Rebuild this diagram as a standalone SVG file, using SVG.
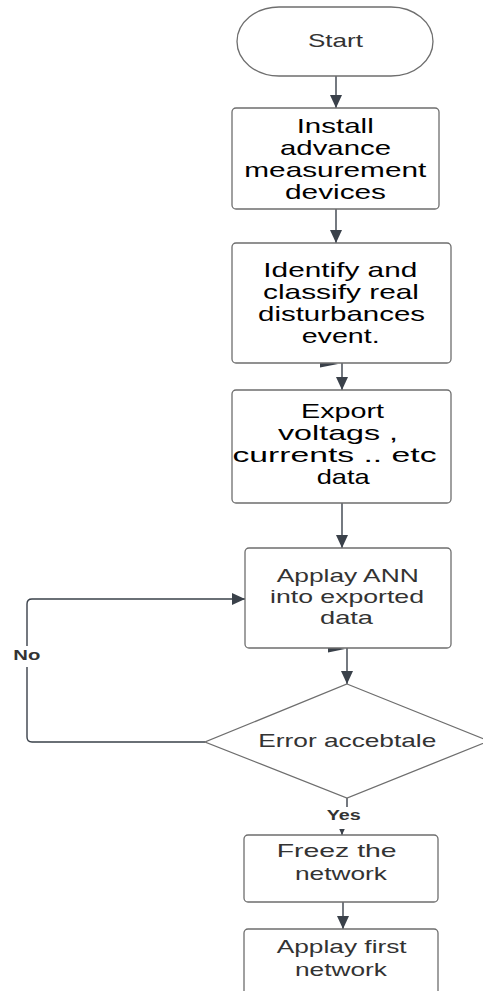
<svg xmlns="http://www.w3.org/2000/svg" width="483" height="991" viewBox="0 0 483 991">
<defs>
<style>
.node{fill:#ffffff;stroke:#6e6e6e;stroke-width:1.3}
.conn{fill:none;stroke:#3a414a;stroke-width:1.4}
.head{fill:#3a414a}
.tb{font-family:"Liberation Sans",Arial,sans-serif;font-size:21px;fill:#000000}
.tg{font-family:"Liberation Sans",Arial,sans-serif;font-size:18.5px;fill:#333333}
.lbl{font-family:"Liberation Sans",Arial,sans-serif;font-size:14px;font-weight:bold;fill:#333333}
</style>
<marker id="arr" viewBox="0 0 13 12" refX="13" refY="6" markerWidth="13" markerHeight="12" markerUnits="userSpaceOnUse" orient="auto">
<path d="M0,0 L13,6 L0,12 z" fill="#3a414a"/>
</marker>
</defs>
<rect width="483" height="991" fill="#ffffff"/>

<g id="connectors">
<path class="conn" d="M336,76 V108" marker-end="url(#arr)"/>
<path class="conn" d="M336,209 V243" marker-end="url(#arr)"/>
<path class="conn" d="M342,363 V390" marker-end="url(#arr)"/>
<polygon class="head" points="320,360 338,364 320,367.5"/>
<path class="conn" d="M342,503 V548" marker-end="url(#arr)"/>
<path class="conn" d="M347,648 V684" marker-end="url(#arr)"/>
<polygon class="head" points="328,645.5 345,649 328,652.5"/>
<path class="conn" d="M205,742 H32 Q27,742 27,737 V604 Q27,599 32,599 H245" marker-end="url(#arr)"/>
<path class="conn" d="M347,798 V815 H342 V835" marker-end="url(#arr)"/>
<path class="conn" d="M343,902 V929" marker-end="url(#arr)"/>
<g id="label-no">
<rect x="11" y="646" width="32" height="21" fill="#ffffff"/>
<text class="lbl" x="13.3" y="660" textLength="27" lengthAdjust="spacingAndGlyphs">No</text>
</g>
<g id="label-yes">
<rect x="324" y="807" width="40" height="22" fill="#ffffff"/>
<text class="lbl" x="326.7" y="819.5" textLength="34" lengthAdjust="spacingAndGlyphs">Yes</text>
</g>
</g>

<g id="start">
<rect class="node" x="237" y="7" width="196" height="69" rx="42" ry="34.5"/>
<text class="tg" x="308" y="47" textLength="55" lengthAdjust="spacingAndGlyphs">Start</text>
</g>

<g id="install">
<rect class="node" x="232" y="108" width="207" height="101" rx="4"/>
<text class="tb" x="296.7" y="133" textLength="77" lengthAdjust="spacingAndGlyphs">Install</text>
<text class="tb" x="280" y="155" textLength="111" lengthAdjust="spacingAndGlyphs">advance</text>
<text class="tb" x="244.3" y="177" textLength="182" lengthAdjust="spacingAndGlyphs">measurement</text>
<text class="tb" x="285" y="199" textLength="101" lengthAdjust="spacingAndGlyphs">devices</text>
</g>

<g id="identify">
<rect class="node" x="232" y="243" width="219" height="120" rx="4"/>
<text class="tb" x="263.3" y="277" textLength="154" lengthAdjust="spacingAndGlyphs">Identify and</text>
<text class="tb" x="263" y="299" textLength="156" lengthAdjust="spacingAndGlyphs">classify real</text>
<text class="tb" x="258" y="321" textLength="167" lengthAdjust="spacingAndGlyphs">disturbances</text>
<text class="tb" x="301.7" y="343" textLength="78" lengthAdjust="spacingAndGlyphs">event.</text>
</g>

<g id="export">
<rect class="node" x="232" y="390" width="219" height="113" rx="4"/>
<text class="tb" x="301" y="418" textLength="83" lengthAdjust="spacingAndGlyphs">Export</text>
<text class="tb" x="278" y="440" textLength="120" lengthAdjust="spacingAndGlyphs">voltags ,</text>
<text class="tb" x="232.5" y="462" textLength="204" lengthAdjust="spacingAndGlyphs">currents .. etc</text>
<text class="tb" x="316.7" y="484" textLength="53" lengthAdjust="spacingAndGlyphs">data</text>
</g>

<g id="apply-ann">
<rect class="node" x="245" y="548" width="206" height="100" rx="4"/>
<text class="tg" x="276.7" y="582" textLength="142" lengthAdjust="spacingAndGlyphs">Applay ANN</text>
<text class="tg" x="270" y="603" textLength="154" lengthAdjust="spacingAndGlyphs">into exported</text>
<text class="tg" x="320" y="624" textLength="53" lengthAdjust="spacingAndGlyphs">data</text>
</g>

<g id="error-decision">
<polygon class="node" points="347,684 489,741 347,798 205,742"/>
<text class="tg" x="258.3" y="747" textLength="178" lengthAdjust="spacingAndGlyphs">Error accebtale</text>
</g>

<g id="freeze">
<rect class="node" x="244" y="835" width="194" height="67" rx="4"/>
<text class="tg" x="276.7" y="857" textLength="120" lengthAdjust="spacingAndGlyphs">Freez the</text>
<text class="tg" x="295" y="880" textLength="92" lengthAdjust="spacingAndGlyphs">network</text>
</g>

<g id="apply-first">
<rect class="node" x="244" y="929" width="194" height="80" rx="4"/>
<text class="tg" x="276.7" y="953" textLength="130" lengthAdjust="spacingAndGlyphs">Applay first</text>
<text class="tg" x="295" y="976" textLength="92" lengthAdjust="spacingAndGlyphs">network</text>
</g>
</svg>
